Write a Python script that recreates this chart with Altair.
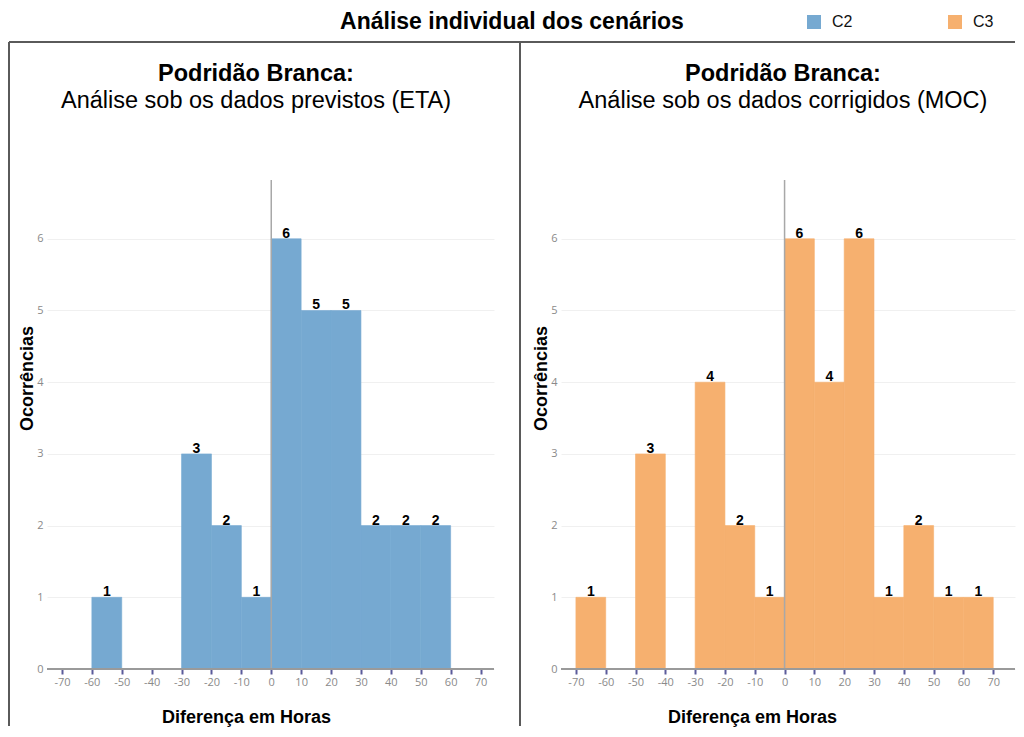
import altair as alt
import pandas as pd

# ---------------- data ----------------
eta_bin_start = [-60, -30, -20, -10, 0, 10, 20, 30, 40, 50]
eta_counts = [1, 3, 2, 1, 6, 5, 5, 2, 2, 2]
moc_bin_start = [-70, -50, -30, -20, -10, 0, 10, 20, 30, 40, 50, 60]
moc_counts = [1, 3, 4, 2, 1, 6, 4, 6, 1, 2, 1, 1]
bin_width = 10
series_names = ["C2", "C3"]
series_colors = ["#76a9d1", "#f6b06f"]
x_ticks_left = list(range(-70, 71, 10))
x_ticks_right = list(range(-70, 81, 10))
y_ticks = [0, 1, 2, 3, 4, 5, 6]

main_title = "Análise individual dos cenários"
panel_title = "Podridão Branca:"
left_subtitle = "Análise sob os dados previstos (ETA)"
right_subtitle = "Análise sob os dados corrigidos (MOC)"
x_title = "Diferença em Horas"
y_title = "Ocorrências"

# ---------------- layout constants ----------------
YMAX = 6.82
PLOT_H = 489
BORDER = "#5a5a5a"
FONT = "Liberation Sans"


def panel(starts, counts, name, subtitle, xdom, width, tick_vals,
          xtitle_x, title_dx, is_left):
    df = pd.DataFrame({
        "start": starts,
        "end": [s + bin_width for s in starts],
        "mid": [s + bin_width / 2 for s in starts],
        "count": counts,
        "series": [name] * len(starts),
    })
    xs = alt.Scale(domain=xdom, nice=False, zero=False)
    ys = alt.Scale(domain=[0, YMAX], nice=False)
    xaxis = alt.Axis(
        values=tick_vals, title=x_title, grid=False, domain=False,
        ticks=True, tickColor="#5b5b9b", tickWidth=2, tickSize=5,
        labelPadding=2, labelExpr="'' + datum.value",
        titleX=xtitle_x, titleY=53, titleBaseline="alphabetic",
        titleAlign="center")
    yaxis = alt.Axis(
        values=y_ticks, title=y_title, grid=True, gridColor="#f0f0f0",
        domain=False, ticks=False, labelPadding=4,
        titleAngle=270, titleX=-20, titleY=198, titleBaseline="middle",
        titleAlign="center")
    cscale = alt.Scale(domain=series_names, range=series_colors)

    bars = alt.Chart(df).mark_rect(strokeWidth=0.6).encode(
        x=alt.X("start:Q", scale=xs, axis=xaxis),
        x2="end:Q",
        y=alt.Y("count:Q", scale=ys, axis=yaxis),
        y2=alt.datum(0),
        color=alt.Color("series:N", scale=cscale,
                        legend=alt.Legend(
                            orient="none", legendX=759, legendY=-166,
                            direction="horizontal", title=None,
                            symbolType="square", symbolSize=196,
                            symbolStrokeWidth=0, labelFont=FONT,
                            labelFontSize=16, labelColor="#111",
                            labelOffset=10, columnPadding=94)),
        stroke=alt.Stroke("series:N", scale=cscale, legend=None),
    )

    zero_df = pd.DataFrame({"x": [0], "y": [0], "y2": [YMAX]})
    zero_line = alt.Chart(zero_df).mark_rule(color="#a8a8a8", strokeWidth=1.5).encode(
        x=alt.X("x:Q", scale=xs, axis=xaxis),
        y=alt.Y("y:Q", scale=ys, axis=yaxis),
        y2="y2:Q",
    )
    base_df = pd.DataFrame({"x": [xdom[0]], "x2": [xdom[1]], "y": [0]})
    base_line = alt.Chart(base_df).mark_rule(color="#9a9a9a", strokeWidth=2).encode(
        x=alt.X("x:Q", scale=xs, axis=xaxis),
        x2="x2:Q",
        y=alt.Y("y:Q", scale=ys, axis=yaxis),
    )
    labels = alt.Chart(df).mark_text(
        baseline="bottom", dy=2, font=FONT, fontWeight="bold",
        fontSize=14, color="black").encode(
        x=alt.X("mid:Q", scale=xs, axis=xaxis),
        y=alt.Y("count:Q", scale=ys, axis=yaxis),
        text="count:Q",
    )

    dummy = pd.DataFrame({"k": [0]})
    if is_left:
        lx, rx = -38, width + 26
        border_layers = [
            alt.Chart(dummy).mark_rule(color=BORDER, strokeWidth=2).encode(
                x=alt.value(lx), x2=alt.value(rx), y=alt.value(-138)),
            alt.Chart(dummy).mark_rule(color=BORDER, strokeWidth=2).encode(
                x=alt.value(lx), y=alt.value(-138), y2=alt.value(546)),
            alt.Chart(dummy).mark_rule(color=BORDER, strokeWidth=2).encode(
                x=alt.value(rx), y=alt.value(-138), y2=alt.value(546)),
        ]
    else:
        lx = -41
        border_layers = [
            alt.Chart(dummy).mark_rule(color=BORDER, strokeWidth=2).encode(
                x=alt.value(lx), x2=alt.value(width), y=alt.value(-138)),
            alt.Chart(dummy).mark_rule(color=BORDER, strokeWidth=2).encode(
                x=alt.value(lx), y=alt.value(-138), y2=alt.value(546)),
        ]

    return alt.layer(bars, zero_line, base_line, labels, *border_layers).properties(
        width=width, height=PLOT_H,
        title=alt.TitleParams(
            text=panel_title, subtitle=subtitle, font=FONT, subtitleFont=FONT,
            fontSize=23.5, subtitleFontSize=23.5, fontWeight="bold",
            subtitleFontWeight="normal", color="black", subtitleColor="black",
            anchor="middle", frame="group", dx=title_dx, offset=-71,
            subtitlePadding=3),
    )


left = panel(eta_bin_start, eta_counts, "C2", left_subtitle, [-75, 74.5], 447,
             x_ticks_left, 199, -14.5, True)
right = panel(moc_bin_start, moc_counts, "C3", right_subtitle, [-75, 77.3], 454,
              x_ticks_right, 191, -5, False)

chart = alt.hconcat(left, right, spacing=-2).properties(
    title=alt.TitleParams(text=main_title, font=FONT, fontSize=23,
                          fontWeight="bold", color="black", anchor="middle",
                          frame="bounds", offset=-20),
    padding={"top": 3, "left": 0, "right": 0, "bottom": 0},
).configure_view(stroke=None).configure_axis(
    labelFont="Open Sans", labelFontSize=11, labelColor="#8a8a8a",
    titleFont=FONT, titleFontSize=18, titleFontWeight="bold", titleColor="black",
)

chart.save("out.html", embed_options={"renderer": "svg", "actions": False})
